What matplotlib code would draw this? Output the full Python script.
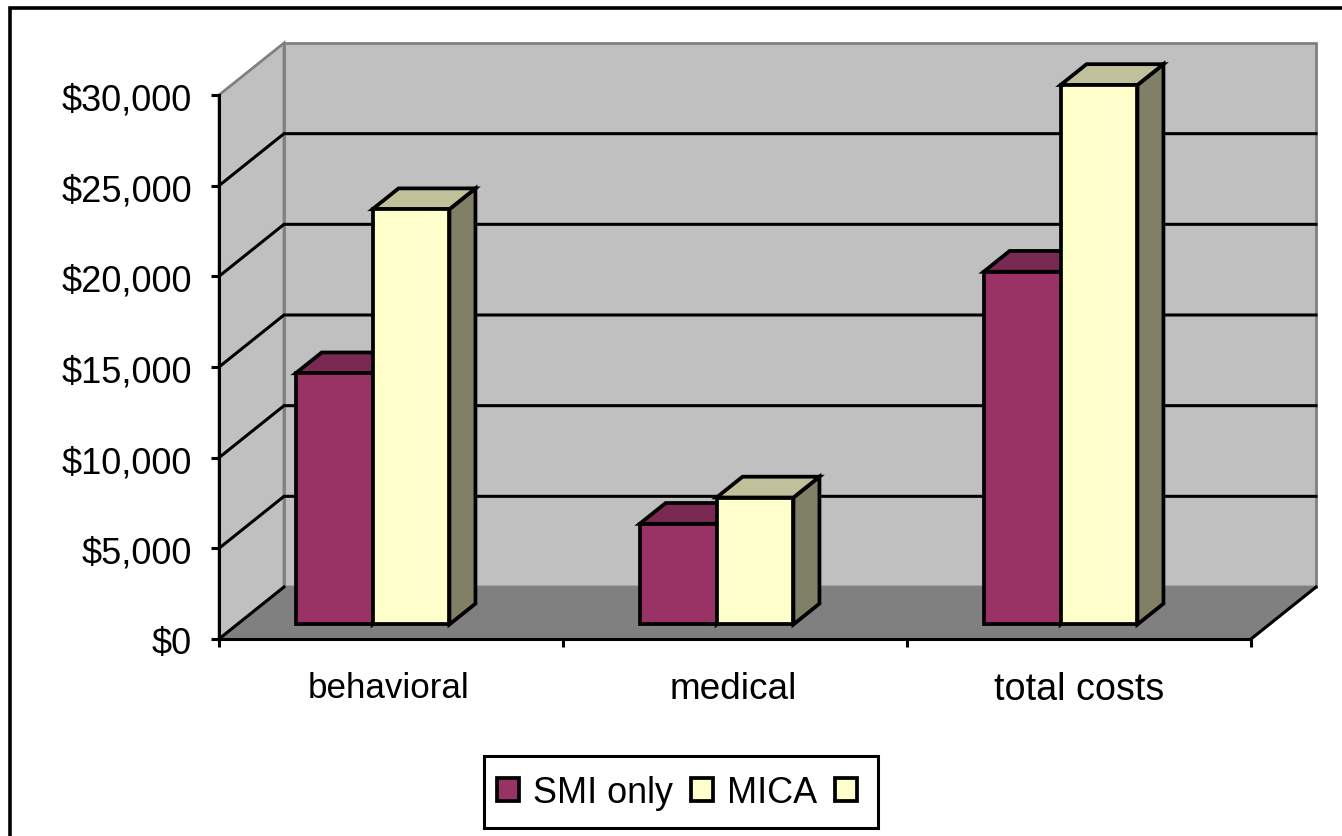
#!/usr/bin/env python3
# 3D-style column chart of annual costs, SMI only vs MICA

import matplotlib
matplotlib.use('Agg')
import matplotlib.pyplot as plt
from matplotlib.lines import Line2D
from matplotlib.patches import Patch, Polygon, Rectangle
from matplotlib.transforms import ScaledTranslation

categories = ['behavioral', 'medical', 'total costs']
smi_only = [13850, 5550, 19450]
mica = [22900, 7000, 29750]
y_ticks = [0, 5000, 10000, 15000, 20000, 25000, 30000]
y_labels = ['$0', '$5,000', '$10,000', '$15,000', '$20,000', '$25,000', '$30,000']
cat_sizes = [25.2, 26.6, 27.2]

W, H = 1342, 837
LW = 2.2
BAR_LW = 2.7
WALL, FLOOR, EDGE = '#C0C0C0', '#808080', '#808080'
PURPLE = ('#993366', '#7A2952', '#5C1F3D')
YELLOW = ('#FFFFCC', '#C0C09A', '#808066')

plt.rcParams.update({'font.family': ['Liberation Sans', 'DejaVu Sans'], 'font.size': 26})

fig = plt.figure(figsize=(W / 100, H / 100), dpi=100, facecolor='white')
ax = fig.add_axes([219 / W, 1 - 640 / H, 1032 / W, 544 / H], facecolor='none')
ax.set_xlim(0, 3)
ax.set_ylim(0, 30000)

# depth direction of the fake 3D box, in data units per unit of depth
DX = 65 / 344
DY = 52 / 544 * 30000


def proj(x, v, d=0.0):
    return (x + d * DX, v + d * DY)


def face(points, color, z=2, edge='black', lw=BAR_LW):
    ax.add_patch(Polygon(points, closed=True, facecolor=color, edgecolor=edge, lw=lw,
                         joinstyle='miter', clip_on=False, zorder=z))


def box(x0, x1, value, colors, d0=0.28, d1=0.68, z=3):
    base = 0
    face([proj(x1, base, d0), proj(x1, base, d1), proj(x1, value, d1), proj(x1, value, d0)],
         colors[2], z)
    face([proj(x0, value, d0), proj(x1, value, d0), proj(x1, value, d1), proj(x0, value, d1)],
         colors[1], z)
    face([proj(x0, base, d0), proj(x1, base, d0), proj(x1, value, d0), proj(x0, value, d0)],
         colors[0], z)


# walls and floor
face([proj(0, 0, 1), proj(3, 0, 1), proj(3, 30000, 1), proj(0, 30000, 1)], WALL, 1, EDGE, 2.0)
face([proj(0, 0), proj(0, 0, 1), proj(0, 30000, 1), proj(0, 30000)], WALL, 1, EDGE, 2.0)
face([proj(0, 0), proj(3, 0), proj(3, 0, 1), proj(0, 0, 1)], FLOOR, 1, EDGE, 2.0)

# gridlines run along the side wall and across the back wall
for v in y_ticks[1:-1]:
    xs, ys = zip(proj(0, v), proj(0, v, 1), proj(3, v, 1))
    ax.plot(xs, ys, color='black', lw=LW, clip_on=False, zorder=1.5, solid_joinstyle='miter')
for x in (0, 3):
    xs, ys = zip(proj(x, 0), proj(x, 0, 1))
    ax.plot(xs, ys, color='black', lw=LW, clip_on=False, zorder=1.5)

bar_left, bar_w = 0.17, 0.2235
for i in range(len(categories)):
    box(i + bar_left, i + bar_left + bar_w, smi_only[i], PURPLE, z=3 + i * 0.1)
    box(i + bar_left + bar_w, i + bar_left + 2 * bar_w, mica[i], YELLOW, z=3.05 + i * 0.1)

# axes
for s in ('top', 'right'):
    ax.spines[s].set_visible(False)
for s in ('left', 'bottom'):
    ax.spines[s].set_linewidth(LW)
    ax.spines[s].set_zorder(2.5)
ax.set_yticks(y_ticks, y_labels)
ax.set_xticks([0, 1, 2, 3], [])
ax.set_xticks([0.494, 1.496, 2.501], categories, minor=True)
ax.tick_params(axis='y', length=5.5, width=LW, pad=14)
ax.tick_params(axis='x', which='major', length=5.5, width=LW)
ax.tick_params(axis='x', which='minor', length=0, pad=23)
for lab, size in zip(ax.get_xticklabels(minor=True), cat_sizes):
    lab.set_fontsize(size)
nudge = ScaledTranslation(0, -1 / 100, fig.dpi_scale_trans)
for lab in ax.get_yticklabels():
    lab.set_transform(lab.get_transform() + nudge)

# legend, the third series has no name
handles = [Patch(facecolor=PURPLE[0], edgecolor='black', lw=BAR_LW),
           Patch(facecolor=YELLOW[0], edgecolor='black', lw=BAR_LW),
           Patch(facecolor=YELLOW[0], edgecolor='black', lw=BAR_LW)]
leg = ax.legend(handles, ['SMI only', 'MICA', ''], ncol=3, loc='center',
                bbox_to_anchor=(684 / W, 1 - 794 / H), bbox_transform=fig.transFigure,
                frameon=False, fontsize=25.9,
                handlelength=0.6, handleheight=0.6, handletextpad=0.4,
                columnspacing=0.5, borderpad=0.55, borderaxespad=0)
fig.add_artist(Rectangle((484 / W, 1 - 829 / H), 394 / W, 72 / H, transform=fig.transFigure,
                         facecolor='white', edgecolor='black', lw=LW, zorder=-1))

# outer chart frame, cut off by the right and bottom of the image
fig.add_artist(Line2D([10 / W, 10 / W, 1], [0, 1 - 8.5 / H, 1 - 8.5 / H], color='black', lw=2.6,
                      solid_joinstyle='miter'))

fig.savefig('out.png', dpi=100)
plt.close(fig)
